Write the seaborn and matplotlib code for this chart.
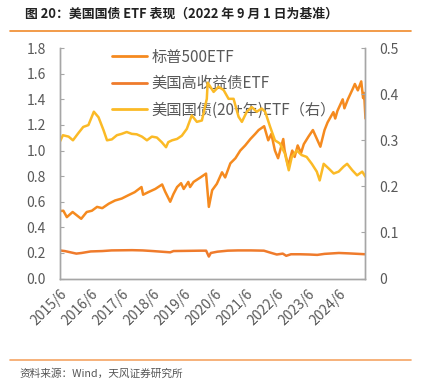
import numpy as np
import pandas as pd
import matplotlib
matplotlib.use("Agg")
import matplotlib.pyplot as plt
import matplotlib.dates as mdates
from matplotlib.lines import Line2D
import seaborn as sns

sns.set_style("white")
plt.rcParams['font.family'] = ['Noto Sans CJK SC', 'DejaVu Sans']
plt.rcParams['axes.unicode_minus'] = False

# 标普500ETF (左轴)
spx_dates = ["2015-06-01", "2015-07-15", "2015-08-25", "2015-11-01", "2016-02-10", "2016-04-15",
             "2016-06-15", "2016-08-15", "2016-10-15", "2016-12-31", "2017-03-15", "2017-06-01",
             "2017-08-15", "2017-11-01", "2018-01-20", "2018-02-08", "2018-04-10", "2018-07-01",
             "2018-09-20", "2018-10-25", "2018-12-24", "2019-01-31", "2019-03-15", "2019-05-01",
             "2019-06-01", "2019-07-25", "2019-08-15", "2019-09-25", "2019-12-15", "2020-02-19",
             "2020-03-23", "2020-05-01", "2020-06-25", "2020-08-25", "2020-10-01", "2020-12-01",
             "2021-01-30", "2021-03-28", "2021-05-25", "2021-07-25", "2021-09-20", "2021-10-30",
             "2022-01-03", "2022-02-20", "2022-03-29", "2022-05-10", "2022-06-16", "2022-08-16",
             "2022-09-01", "2022-10-12", "2022-11-30", "2022-12-28", "2023-02-02", "2023-03-13",
             "2023-04-15", "2023-06-10", "2023-07-31", "2023-10-27", "2023-12-15", "2024-01-20",
             "2024-03-28", "2024-04-19", "2024-05-15", "2024-07-16", "2024-08-05", "2024-09-15",
             "2024-11-10", "2024-12-06", "2025-01-10", "2025-02-19", "2025-03-13", "2025-03-25",
             "2025-04-10"]
spx_vals = [0.527, 0.53, 0.48, 0.52, 0.467, 0.52,
            0.53, 0.56, 0.55, 0.585, 0.61, 0.625,
            0.65, 0.675, 0.715, 0.655, 0.675, 0.70,
            0.735, 0.68, 0.60, 0.66, 0.715, 0.745,
            0.70, 0.755, 0.715, 0.755, 0.79, 0.82,
            0.56, 0.69, 0.74, 0.83, 0.79, 0.90,
            0.94, 1.00, 1.04, 1.09, 1.13, 1.16,
            1.19, 1.08, 1.13, 1.00, 0.94, 1.09,
            1.00, 0.88, 1.00, 0.95, 1.04, 0.98,
            1.05, 1.11, 1.16, 1.03, 1.16, 1.22,
            1.30, 1.25, 1.31, 1.40, 1.33, 1.40,
            1.48, 1.52, 1.47, 1.54, 1.41, 1.45,
            1.25]

# 美国高收益债ETF (左轴)
hy_dates = ["2015-06-01", "2015-08-01", "2015-12-15", "2016-02-15", "2016-06-01", "2016-10-15",
            "2017-02-01", "2017-10-01", "2018-02-01", "2018-06-01", "2018-12-24", "2019-02-01",
            "2019-12-15", "2020-02-20", "2020-03-23", "2020-04-15", "2020-07-01", "2020-11-01",
            "2021-03-01", "2021-08-01", "2021-12-31", "2022-03-15", "2022-06-01", "2022-08-10",
            "2022-09-20", "2022-11-15", "2023-03-01", "2023-06-20", "2023-09-20", "2023-12-15",
            "2024-06-01", "2024-09-20", "2025-04-10"]
hy_vals = [0.22, 0.215, 0.195, 0.20, 0.212, 0.215,
           0.22, 0.222, 0.22, 0.215, 0.205, 0.215,
           0.218, 0.218, 0.172, 0.20, 0.21, 0.218,
           0.22, 0.22, 0.218, 0.203, 0.188, 0.195,
           0.178, 0.19, 0.19, 0.188, 0.185, 0.193,
           0.20, 0.197, 0.19]

# 美国国债(20+年)ETF (右轴)
tlt_dates = ["2015-06-01", "2015-07-10", "2015-09-15", "2015-11-05", "2016-01-05", "2016-03-05",
             "2016-05-05", "2016-07-08", "2016-09-01", "2016-10-30", "2016-12-10", "2017-02-05",
             "2017-04-05", "2017-06-01", "2017-07-30", "2017-09-27", "2017-11-25", "2018-01-25",
             "2018-03-25", "2018-05-22", "2018-07-20", "2018-09-15", "2018-11-05", "2018-12-01",
             "2019-01-15", "2019-03-15", "2019-05-10", "2019-07-08", "2019-09-04", "2019-11-03",
             "2020-01-01", "2020-02-28", "2020-03-09", "2020-05-18", "2020-07-15", "2020-09-13",
             "2020-11-10", "2021-01-08", "2021-03-08", "2021-04-16", "2021-06-13", "2021-08-10",
             "2021-10-08", "2021-12-05", "2022-01-15", "2022-03-15", "2022-05-10", "2022-07-08",
             "2022-09-05", "2022-10-20", "2022-11-25", "2023-01-22", "2023-03-20", "2023-05-18",
             "2023-07-18", "2023-09-15", "2023-10-19", "2023-12-05", "2024-02-01", "2024-04-01",
             "2024-05-29", "2024-07-27", "2024-09-06", "2024-11-06", "2025-01-01", "2025-03-03",
             "2025-04-10"]
tlt_vals = [0.296, 0.311, 0.308, 0.30, 0.315, 0.329,
            0.333, 0.362, 0.35, 0.322, 0.30, 0.302,
            0.311, 0.314, 0.318, 0.314, 0.313, 0.308,
            0.30, 0.308, 0.306, 0.296, 0.285, 0.296,
            0.30, 0.303, 0.31, 0.325, 0.354, 0.34,
            0.343, 0.39, 0.425, 0.405, 0.416, 0.409,
            0.39, 0.39, 0.351, 0.34, 0.362, 0.372,
            0.362, 0.369, 0.362, 0.329, 0.30, 0.293,
            0.271, 0.235, 0.264, 0.278, 0.268, 0.264,
            0.249, 0.232, 0.213, 0.249, 0.239, 0.228,
            0.232, 0.243, 0.249, 0.235, 0.224, 0.232,
            0.221]

labels = ["标普500ETF", "美国高收益债ETF", "美国国债(20+年)ETF（右）"]
colors = ["#F58A1F", "#EF7B2C", "#FBBA26"]

spx = pd.DataFrame({"date": pd.to_datetime(spx_dates), "v": spx_vals})
hy = pd.DataFrame({"date": pd.to_datetime(hy_dates), "v": hy_vals})
tlt = pd.DataFrame({"date": pd.to_datetime(tlt_dates), "v": tlt_vals})

fig = plt.figure(figsize=(4.32, 3.88), dpi=100)
ax = fig.add_axes([0.138, 0.282, 0.708, 0.594])
ax2 = ax.twinx()

sns.lineplot(data=spx, x="date", y="v", ax=ax, color=colors[0], lw=1.8)
sns.lineplot(data=hy, x="date", y="v", ax=ax, color=colors[1], lw=1.8)
sns.lineplot(data=tlt, x="date", y="v", ax=ax2, color=colors[2], lw=1.8)

ax.set_xlim(pd.Timestamp("2015-06-01"), pd.Timestamp("2025-04-10"))
ax.set_ylim(0, 1.8)
ax2.set_ylim(0, 0.5)
ax.set_yticks(np.arange(0, 1.81, 0.2))
ax.set_yticklabels([f"{v:.1f}" for v in np.arange(0, 1.81, 0.2)])
ax2.set_yticks(np.arange(0, 0.51, 0.1))
ax2.set_yticklabels(["0"] + [f"{v:.1f}" for v in np.arange(0.1, 0.51, 0.1)])

xt = pd.to_datetime([f"{y}-06-01" for y in range(2015, 2025)])
ax.set_xticks(xt)
ax.xaxis.set_major_formatter(mdates.DateFormatter("%Y/%-m"))
for lab in ax.get_xticklabels():
    lab.set_rotation(45)
    lab.set_ha("right")
    lab.set_rotation_mode("anchor")

ax.set_xlabel("")
ax.set_ylabel("")
ax2.set_ylabel("")

gray = "#595959"
spine_c = "#A6A6A6"
for a in (ax, ax2):
    a.spines["top"].set_visible(False)
    for s in ("left", "right", "bottom"):
        a.spines[s].set_color(spine_c)
        a.spines[s].set_linewidth(1.0)
ax.tick_params(axis="y", direction="in", length=3, color=spine_c, labelsize=10, labelcolor=gray, pad=10)
ax2.tick_params(axis="y", direction="in", length=3, color=spine_c, labelsize=10, labelcolor=gray, pad=10)
ax.tick_params(axis="x", direction="out", length=4, color=spine_c, labelsize=10, labelcolor=gray, pad=2)

handles = [Line2D([], [], color=c, lw=2) for c in colors]
ax.legend(handles, labels, loc="upper left", bbox_to_anchor=(0.145, 1.03), frameon=False,
          fontsize=11, handlelength=2.3, handletextpad=0.3, labelspacing=0.62,
          borderpad=0, labelcolor=gray)

fig.text(0.058, 0.965, "图 20：美国国债 ETF 表现（2022 年 9 月 1 日为基准）", fontsize=9.3,
         fontweight="bold", color="#222222", va="center")
fig.add_artist(Line2D([0.023, 0.951], [0.919, 0.919], color="#F08A2A", lw=1.2))
fig.add_artist(Line2D([0.023, 0.951], [0.072, 0.072], color="#F5A463", lw=1.2))
fig.text(0.046, 0.036, "资料来源：Wind，天风证券研究所", fontsize=7.7, color="#555555", va="center")

fig.savefig("out.png", dpi=100)
